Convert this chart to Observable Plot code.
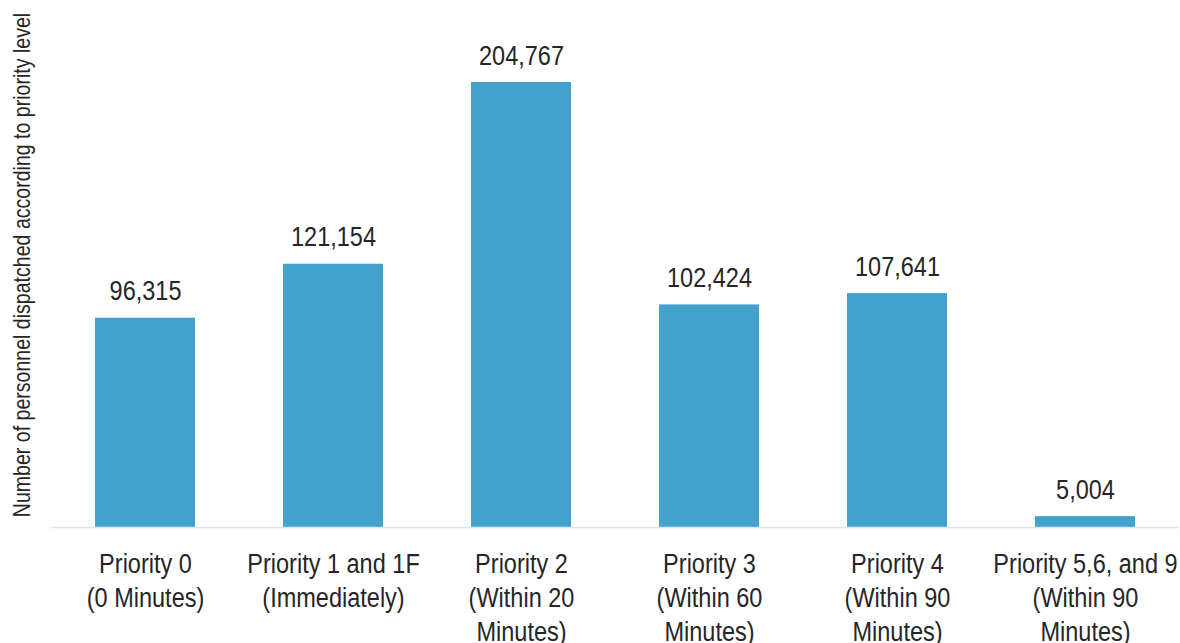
<!DOCTYPE html>
<html>
<head>
<meta charset="utf-8">
<script src="https://cdn.jsdelivr.net/npm/d3@7"></script>
<script src="https://cdn.jsdelivr.net/npm/@observablehq/plot@0.6"></script>
<style>
  html, body { margin: 0; padding: 0; background: #ffffff; }
  #chart svg { display: block; }
</style>
</head>
<body>
<div id="chart"></div>
<script>
const categories = [
  "Priority 0\n(0 Minutes)",
  "Priority 1 and 1F\n(Immediately)",
  "Priority 2\n(Within 20\nMinutes)",
  "Priority 3\n(Within 60\nMinutes)",
  "Priority 4\n(Within 90\nMinutes)",
  "Priority 5,6, and 9\n(Within 90\nMinutes)"
];
const values = [96315, 121154, 204767, 102424, 107641, 5004];
const yLabel = "Number of personnel dispatched according to priority level";

const data = categories.map((c, i) => ({category: c, value: values[i]}));
const font = "'Liberation Sans Narrow', 'Arial Narrow', 'Liberation Sans', Arial, sans-serif";
const fmt = d3.format(",");

const chart = Plot.plot({
  width: 1180,
  height: 643,
  marginLeft: 51,
  marginRight: 1,
  marginTop: 82,
  marginBottom: 116,
  style: {fontFamily: font, color: "#262626", background: "#ffffff"},
  x: {domain: categories, paddingInner: 0.468, paddingOuter: 0.233, align: 0.5, label: null},
  y: {domain: [0, d3.max(values)], axis: null},
  marks: [
    Plot.barY(data, {x: "category", y: "value", fill: "#42a2cb"}),
    Plot.ruleY([0], {stroke: "#d6e7f1", strokeWidth: 1.5}),
    Plot.text(data, {x: "category", y: "value", text: d => fmt(d.value), lineAnchor: "bottom", dy: -18, fontSize: 28, fill: "#262626"}),
    Plot.axisX({tickSize: 0, tickPadding: 22, fontSize: 28, lineHeight: 1.2, label: null, fill: "#262626"}),
    Plot.text([yLabel], {frameAnchor: "left", textAnchor: "middle", rotate: -90, dx: -29, dy: -40, fontSize: 23.3, fill: "#262626"})
  ]
});
// emulate a condensed (narrow) typeface: squeeze every label horizontally along its own baseline
d3.select(chart).selectAll("text").each(function() {
  const t = this.getAttribute("transform") || "";
  this.setAttribute("transform", t + " scale(0.84,1)");
});
document.getElementById("chart").appendChild(chart);
</script>
</body>
</html>
